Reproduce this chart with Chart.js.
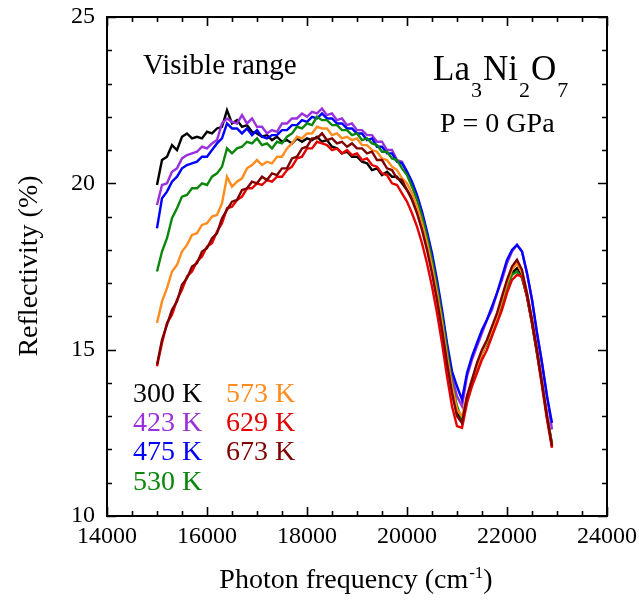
<!DOCTYPE html>
<html>
<head>
<meta charset="utf-8">
<script src="https://cdn.jsdelivr.net/npm/chart.js@4.4.0/dist/chart.umd.min.js"></script>
<style>
  html, body { margin: 0; padding: 0; background: #ffffff; }
  canvas { display: block; }
</style>
</head>
<body>
<canvas id="c" width="639" height="604"></canvas>
<script>
// ---- Data ----
const freq = [15000,15100,15200,15300,15400,15500,15600,15700,15800,15900,
  16000,16100,16200,16300,16400,16500,16600,16700,16800,16900,
  17000,17100,17200,17300,17400,17500,17600,17700,17800,17900,
  18000,18100,18200,18300,18400,18500,18600,18700,18800,18900,
  19000,19100,19200,19300,19400,19500,19600,19700,19800,19900,
  20000,20100,20200,20300,20400,20500,20600,20700,20800,20900,
  21000,21100,21200,21300,21400,21500,21600,21700,21800,21900,
  22000,22100,22200,22300,22400,22500,22600,22700,22800,22900];

const r300 = [19.95,20.7,20.8,21.15,21.0,21.4,21.5,21.35,21.4,21.35,
  21.55,21.5,21.65,21.7,22.2,21.8,21.9,21.7,21.75,21.55,
  21.5,21.4,21.45,21.3,21.4,21.25,21.3,21.2,21.35,21.25,
  21.35,21.3,21.4,21.25,21.3,21.1,21.05,20.9,20.95,20.8,
  20.8,20.65,20.6,20.4,20.45,20.25,20.35,20.2,20.2,20.0,
  19.8,19.55,19.2,18.7,18.1,17.4,16.6,15.7,14.9,13.9,
  13.1,12.8,13.5,14.0,14.4,14.9,15.2,15.5,15.9,16.4,
  16.9,17.3,17.45,17.2,16.6,15.8,14.9,14.0,13.0,12.15];

const r423 = [19.35,19.95,20.0,20.35,20.45,20.75,20.85,20.9,20.95,21.1,
  21.05,21.2,21.3,21.8,21.95,21.85,21.8,22.05,21.8,21.95,
  21.7,21.7,21.5,21.6,21.55,21.8,21.8,21.95,21.95,22.1,
  22.0,22.15,22.1,22.25,22.05,22.1,21.9,21.95,21.75,21.8,
  21.6,21.6,21.45,21.45,21.25,21.25,21.0,21.0,20.7,20.65,
  20.35,20.0,19.6,19.1,18.5,17.8,17.0,16.1,15.1,14.2,
  13.6,13.3,14.2,14.7,15.1,15.5,15.9,16.2,16.7,17.1,
  17.6,17.95,18.15,17.95,17.3,16.5,15.5,14.6,13.6,12.6];

const r475 = [18.65,19.55,19.75,20.05,20.2,20.45,20.55,20.6,20.65,20.8,
  20.8,21.0,21.2,21.35,21.8,21.65,21.65,21.5,21.65,21.45,
  21.6,21.4,21.35,21.45,21.45,21.6,21.6,21.75,21.75,21.9,
  21.85,22.0,21.95,22.1,21.95,21.95,21.8,21.8,21.65,21.65,
  21.5,21.5,21.3,21.35,21.1,21.1,20.9,20.9,20.65,20.6,
  20.35,20.05,19.65,19.15,18.55,17.9,17.1,16.2,15.2,14.35,
  13.9,13.5,14.3,14.8,15.2,15.6,15.9,16.3,16.7,17.2,
  17.7,18.0,18.15,17.95,17.3,16.5,15.5,14.6,13.6,12.8];

const r530 = [17.35,17.95,18.35,18.95,19.25,19.6,19.65,19.85,19.85,20.0,
  19.95,20.2,20.3,20.5,21.05,20.9,21.05,21.1,21.25,21.2,
  21.35,21.15,21.2,21.05,21.25,21.2,21.4,21.5,21.7,21.65,
  21.8,21.75,22.0,21.9,21.9,21.75,21.75,21.6,21.6,21.45,
  21.5,21.3,21.35,21.2,21.15,20.95,20.95,20.75,20.7,20.45,
  20.25,19.9,19.5,19.0,18.4,17.7,16.9,16.0,15.0,14.0,
  13.3,12.9,13.5,14.0,14.4,14.9,15.2,15.5,15.9,16.4,
  16.9,17.25,17.35,17.15,16.6,15.8,14.9,14.0,13.0,12.15];

const r573 = [15.8,16.45,16.85,17.35,17.55,17.95,18.15,18.45,18.5,18.75,
  18.8,19.0,19.05,19.4,20.2,19.9,20.05,20.15,20.45,20.55,
  20.7,20.55,20.65,20.6,20.8,20.8,21.05,21.2,21.4,21.35,
  21.5,21.5,21.7,21.65,21.65,21.45,21.5,21.35,21.4,21.3,
  21.35,21.15,21.15,21.0,20.95,20.75,20.7,20.5,20.4,20.15,
  20.0,19.7,19.3,18.8,18.2,17.5,16.7,15.8,14.8,13.9,
  13.2,13.0,13.6,14.1,14.5,14.9,15.25,15.6,16.0,16.5,
  17.0,17.4,17.6,17.3,16.7,15.9,15.0,14.0,13.0,12.05];

const r629 = [14.5,15.2,15.8,16.05,16.5,16.8,17.2,17.35,17.65,17.8,
  18.1,18.2,18.55,18.8,19.25,19.3,19.5,19.6,19.85,19.85,
  20.0,19.95,20.1,20.05,20.2,20.2,20.4,20.5,20.75,20.8,
  21.05,21.05,21.25,21.2,21.15,21.0,21.05,20.9,21.0,20.85,
  20.9,20.7,20.75,20.55,20.5,20.3,20.25,20.0,19.95,19.7,
  19.45,19.1,18.7,18.2,17.6,16.9,16.1,15.2,14.2,13.3,
  12.7,12.65,13.4,13.9,14.3,14.7,15.0,15.4,15.8,16.2,
  16.7,17.1,17.25,17.2,16.6,15.8,14.9,13.9,12.9,12.05];

const r673 = [14.55,15.3,15.75,16.2,16.45,16.95,17.15,17.5,17.6,17.95,
  18.05,18.35,18.5,18.95,19.2,19.45,19.5,19.8,19.85,20.05,
  20.0,20.2,20.1,20.3,20.25,20.45,20.45,20.75,20.8,21.05,
  21.1,21.35,21.35,21.5,21.3,21.35,21.2,21.25,21.1,21.2,
  21.05,21.05,20.9,20.95,20.7,20.7,20.45,20.4,20.15,20.1,
  19.8,19.5,19.1,18.6,18.0,17.3,16.5,15.6,14.6,13.7,
  13.0,12.8,13.6,14.1,14.6,15.0,15.3,15.7,16.1,16.6,
  17.1,17.5,17.7,17.4,16.7,15.9,15.0,14.0,13.0,12.1];

const seriesLabels = ["300 K","423 K","475 K","530 K","573 K","629 K","673 K"];
const seriesValues = [r300, r423, r475, r530, r573, r629, r673];
const seriesColors = ["#000000","#9a30dc","#0000ff","#0a870a","#ff8c1e","#e60000","#800000"];

const xTicks = [14000,16000,18000,20000,22000,24000];
const yTicks = [10,15,20,25];

// ---- Chart ----
const FONT = "'Liberation Serif', 'Times New Roman', serif";

const datasets = seriesValues.map((vals, i) => ({
  label: seriesLabels[i],
  data: freq.map((f, j) => ({ x: f, y: vals[j] })),
  borderColor: seriesColors[i],
  backgroundColor: seriesColors[i],
  borderWidth: 2.4,
  pointRadius: 0,
  tension: 0,
  fill: false,
  order: seriesValues.length - 1 - i
}));

const framePlugin = {
  id: 'frame',
  afterDatasetsDraw(chart) {
    const { ctx, chartArea: a, scales } = chart;
    const xs = scales.x, ys = scales.y;
    ctx.save();
    ctx.strokeStyle = '#000';
    ctx.lineWidth = 2;
    ctx.strokeRect(a.left, a.top, a.right - a.left, a.bottom - a.top);
    ctx.lineWidth = 1.6;
    ctx.beginPath();
    for (let v = xs.min; v <= xs.max + 1e-6; v += 500) {
      const px = Math.round(xs.getPixelForValue(v)) + 0.5;
      const len = (v % 2000 === 0) ? 9 : 5;
      ctx.moveTo(px, a.bottom); ctx.lineTo(px, a.bottom - len);
      ctx.moveTo(px, a.top); ctx.lineTo(px, a.top + len);
    }
    for (let v = ys.min; v <= ys.max + 1e-6; v += 1) {
      const py = Math.round(ys.getPixelForValue(v)) + 0.5;
      const len = (v % 5 === 0) ? 9 : 5;
      ctx.moveTo(a.left, py); ctx.lineTo(a.left + len, py);
      ctx.moveTo(a.right, py); ctx.lineTo(a.right - len, py);
    }
    ctx.stroke();

    ctx.fillStyle = '#000';
    ctx.textBaseline = 'alphabetic';
    ctx.textAlign = 'left';
    ctx.font = `29px ${FONT}`;
    ctx.fillText('Visible range', 143, 74);

    let x = 433;
    const big = `35px ${FONT}`, sub = `22px ${FONT}`;
    const parts = [['La', big, 80], ['3', sub, 97], ['Ni', big, 80], ['2', sub, 97], ['O', big, 80], ['7', sub, 97]];
    for (const [t, f, b] of parts) {
      ctx.font = f;
      ctx.fillText(t, x, b);
      x += ctx.measureText(t).width + 1;
    }
    ctx.font = `28px ${FONT}`;
    ctx.fillText('P = 0 GPa', 440, 132);

    ctx.font = `28px ${FONT}`;
    const pos = [[133,402],[133,431],[133,460],[133,490],[226,402],[226,431],[226,460]];
    seriesLabels.forEach((lab, i) => {
      ctx.fillStyle = seriesColors[i];
      ctx.fillText(lab, pos[i][0], pos[i][1]);
    });

    ctx.fillStyle = '#000';
    ctx.font = `28px ${FONT}`;
    const t1 = 'Photon frequency (cm', t2 = '-1', t3 = ')';
    const w1 = ctx.measureText(t1).width, w3 = ctx.measureText(t3).width;
    ctx.font = `17px ${FONT}`;
    const w2 = ctx.measureText(t2).width;
    const total = w1 + w2 + w3 + 1;
    let sx = 356 - total / 2;
    ctx.font = `28px ${FONT}`;
    ctx.fillText(t1, sx, 588);
    ctx.font = `17px ${FONT}`;
    ctx.fillText(t2, sx + w1 + 1, 578);
    ctx.font = `28px ${FONT}`;
    ctx.fillText(t3, sx + w1 + w2 + 1, 588);

    ctx.save();
    ctx.translate(37, 266);
    ctx.rotate(-Math.PI / 2);
    ctx.textAlign = 'center';
    ctx.font = `28px ${FONT}`;
    ctx.fillText('Reflectivity (%)', 0, 0);
    ctx.restore();

    ctx.restore();
  }
};

new Chart(document.getElementById('c'), {
  type: 'line',
  data: { datasets },
  options: {
    responsive: false,
    animation: false,
    layout: { padding: { top: 17, right: 32, left: 0, bottom: 0 } },
    plugins: { legend: { display: false }, tooltip: { enabled: false } },
    scales: {
      x: {
        type: 'linear', min: 14000, max: 24000,
        afterBuildTicks: s => { s.ticks = xTicks.map(v => ({ value: v })); },
        ticks: { color: '#000', font: { family: FONT, size: 24 }, padding: 6, maxRotation: 0, autoSkip: false, callback: v => String(v) },
        grid: { display: false, drawTicks: false },
        border: { display: false },
        afterFit: s => { s.height = 88; s.paddingLeft = 0; s.paddingRight = 0; }
      },
      y: {
        type: 'linear', min: 10, max: 25,
        afterBuildTicks: s => { s.ticks = yTicks.map(v => ({ value: v })); },
        ticks: { color: '#000', font: { family: FONT, size: 24 }, padding: 12, autoSkip: false, callback: v => String(v) },
        grid: { display: false, drawTicks: false },
        border: { display: false },
        afterFit: s => { s.width = 107; s.paddingTop = 0; s.paddingBottom = 0; }
      }
    }
  },
  plugins: [framePlugin]
});
</script>
</body>
</html>
